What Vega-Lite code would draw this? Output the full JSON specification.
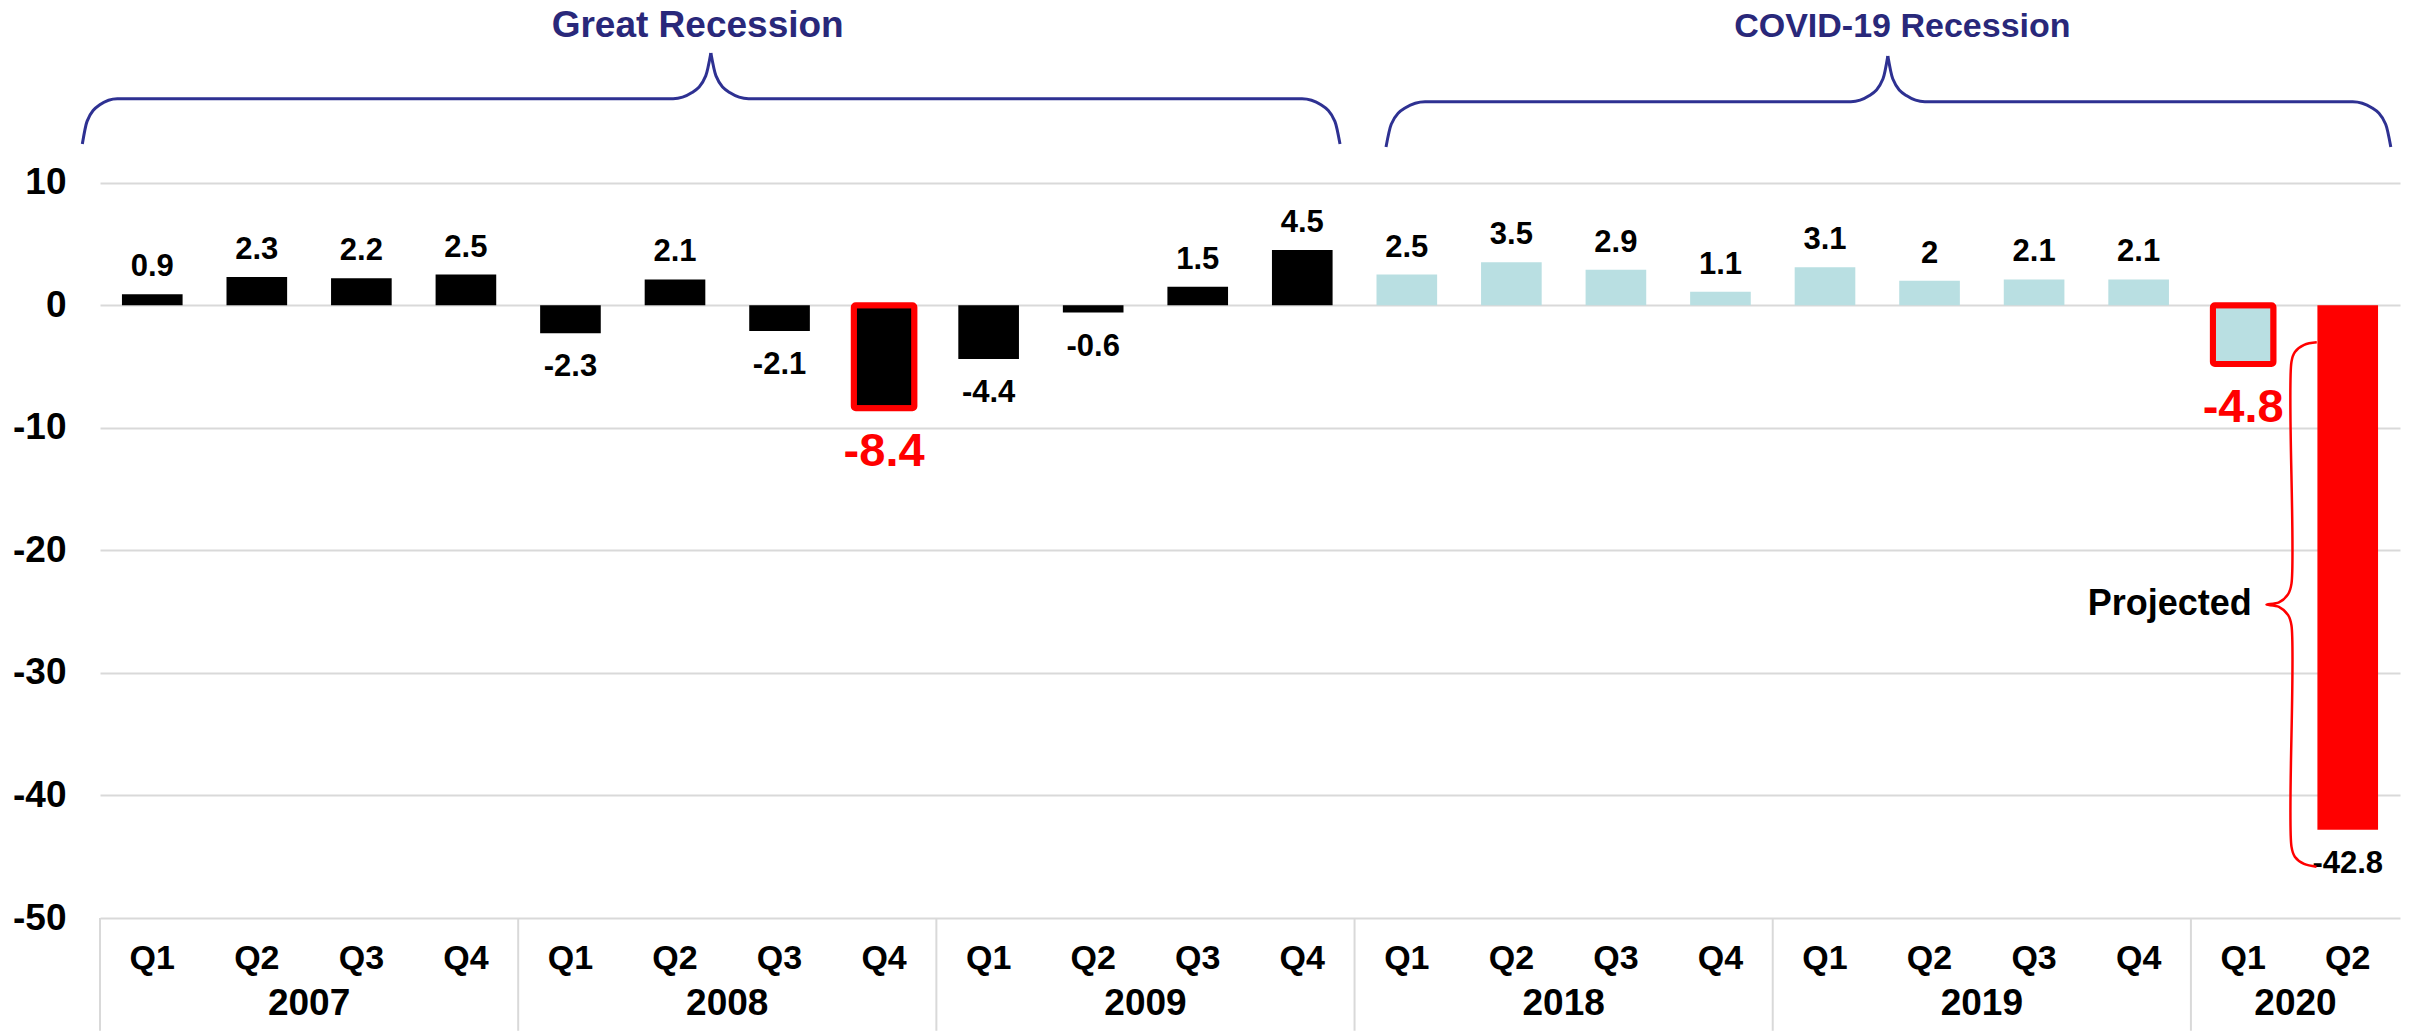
{
  "$schema": "https://vega.github.io/schema/vega-lite/v6.json",
  "width": 2300,
  "height": 918,
  "autosize": {"type": "none"},
  "padding": {"left": 100, "top": 0, "right": 12, "bottom": 113},
  "background": "white",
  "config": {"view": {"stroke": null}, "font": "Liberation Sans"},
  "datasets": {
    "gdp": [
      {"key": "2007 Q1", "year": "2007", "quarter": "Q1", "value": 0.9, "period": "Great Recession", "projected": false},
      {"key": "2007 Q2", "year": "2007", "quarter": "Q2", "value": 2.3, "period": "Great Recession", "projected": false},
      {"key": "2007 Q3", "year": "2007", "quarter": "Q3", "value": 2.2, "period": "Great Recession", "projected": false},
      {"key": "2007 Q4", "year": "2007", "quarter": "Q4", "value": 2.5, "period": "Great Recession", "projected": false},
      {"key": "2008 Q1", "year": "2008", "quarter": "Q1", "value": -2.3, "period": "Great Recession", "projected": false},
      {"key": "2008 Q2", "year": "2008", "quarter": "Q2", "value": 2.1, "period": "Great Recession", "projected": false},
      {"key": "2008 Q3", "year": "2008", "quarter": "Q3", "value": -2.1, "period": "Great Recession", "projected": false},
      {"key": "2008 Q4", "year": "2008", "quarter": "Q4", "value": -8.4, "period": "Great Recession", "projected": false},
      {"key": "2009 Q1", "year": "2009", "quarter": "Q1", "value": -4.4, "period": "Great Recession", "projected": false},
      {"key": "2009 Q2", "year": "2009", "quarter": "Q2", "value": -0.6, "period": "Great Recession", "projected": false},
      {"key": "2009 Q3", "year": "2009", "quarter": "Q3", "value": 1.5, "period": "Great Recession", "projected": false},
      {"key": "2009 Q4", "year": "2009", "quarter": "Q4", "value": 4.5, "period": "Great Recession", "projected": false},
      {"key": "2018 Q1", "year": "2018", "quarter": "Q1", "value": 2.5, "period": "COVID-19 Recession", "projected": false},
      {"key": "2018 Q2", "year": "2018", "quarter": "Q2", "value": 3.5, "period": "COVID-19 Recession", "projected": false},
      {"key": "2018 Q3", "year": "2018", "quarter": "Q3", "value": 2.9, "period": "COVID-19 Recession", "projected": false},
      {"key": "2018 Q4", "year": "2018", "quarter": "Q4", "value": 1.1, "period": "COVID-19 Recession", "projected": false},
      {"key": "2019 Q1", "year": "2019", "quarter": "Q1", "value": 3.1, "period": "COVID-19 Recession", "projected": false},
      {"key": "2019 Q2", "year": "2019", "quarter": "Q2", "value": 2, "period": "COVID-19 Recession", "projected": false},
      {"key": "2019 Q3", "year": "2019", "quarter": "Q3", "value": 2.1, "period": "COVID-19 Recession", "projected": false},
      {"key": "2019 Q4", "year": "2019", "quarter": "Q4", "value": 2.1, "period": "COVID-19 Recession", "projected": false},
      {"key": "2020 Q1", "year": "2020", "quarter": "Q1", "value": -4.8, "period": "COVID-19 Recession", "projected": false},
      {"key": "2020 Q2", "year": "2020", "quarter": "Q2", "value": -42.8, "period": "COVID-19 Recession", "projected": true}
    ],
    "braces": [
      {"part": "GR-L", "ord": 1, "u": 0.331, "v": 13.15},
      {"part": "GR-L", "ord": 2, "u": 0.376, "v": 15.0},
      {"part": "GR-L", "ord": 3, "u": 0.498, "v": 16.35},
      {"part": "GR-L", "ord": 4, "u": 0.665, "v": 16.85},
      {"part": "GR-L", "ord": 5, "u": 5.982, "v": 16.85},
      {"part": "GR-L", "ord": 6, "u": 6.163, "v": 17.35},
      {"part": "GR-L", "ord": 7, "u": 6.294, "v": 18.71},
      {"part": "GR-L", "ord": 8, "u": 6.343, "v": 20.58},
      {"part": "GR-R", "ord": 1, "u": 6.343, "v": 20.58},
      {"part": "GR-R", "ord": 2, "u": 6.392, "v": 18.71},
      {"part": "GR-R", "ord": 3, "u": 6.523, "v": 17.35},
      {"part": "GR-R", "ord": 4, "u": 6.704, "v": 16.85},
      {"part": "GR-R", "ord": 5, "u": 11.998, "v": 16.85},
      {"part": "GR-R", "ord": 6, "u": 12.179, "v": 16.35},
      {"part": "GR-R", "ord": 7, "u": 12.312, "v": 15.0},
      {"part": "GR-R", "ord": 8, "u": 12.361, "v": 13.15},
      {"part": "CV-L", "ord": 1, "u": 12.801, "v": 12.91},
      {"part": "CV-L", "ord": 2, "u": 12.851, "v": 14.76},
      {"part": "CV-L", "ord": 3, "u": 12.987, "v": 16.11},
      {"part": "CV-L", "ord": 4, "u": 13.174, "v": 16.6},
      {"part": "CV-L", "ord": 5, "u": 17.247, "v": 16.6},
      {"part": "CV-L", "ord": 6, "u": 17.425, "v": 17.1},
      {"part": "CV-L", "ord": 7, "u": 17.555, "v": 18.47},
      {"part": "CV-L", "ord": 8, "u": 17.601, "v": 20.33},
      {"part": "CV-R", "ord": 1, "u": 17.601, "v": 20.33},
      {"part": "CV-R", "ord": 2, "u": 17.648, "v": 18.47},
      {"part": "CV-R", "ord": 3, "u": 17.778, "v": 17.1},
      {"part": "CV-R", "ord": 4, "u": 17.955, "v": 16.6},
      {"part": "CV-R", "ord": 5, "u": 22.048, "v": 16.6},
      {"part": "CV-R", "ord": 6, "u": 22.23, "v": 16.11},
      {"part": "CV-R", "ord": 7, "u": 22.363, "v": 14.76},
      {"part": "CV-R", "ord": 8, "u": 22.412, "v": 12.91},
      {"part": "projected", "ord": 1, "u": 21.704, "v": -3.03},
      {"part": "projected", "ord": 2, "u": 21.583, "v": -3.24},
      {"part": "projected", "ord": 3, "u": 21.495, "v": -3.82},
      {"part": "projected", "ord": 4, "u": 21.462, "v": -4.61},
      {"part": "projected", "ord": 5, "u": 21.462, "v": -22.72},
      {"part": "projected", "ord": 6, "u": 21.43, "v": -23.57},
      {"part": "projected", "ord": 7, "u": 21.342, "v": -24.25},
      {"part": "projected", "ord": 8, "u": 21.223, "v": -24.43},
      {"part": "projected", "ord": 9, "u": 21.342, "v": -24.61},
      {"part": "projected", "ord": 10, "u": 21.43, "v": -25.29},
      {"part": "projected", "ord": 11, "u": 21.462, "v": -26.14},
      {"part": "projected", "ord": 12, "u": 21.462, "v": -44.18},
      {"part": "projected", "ord": 13, "u": 21.494, "v": -45.0},
      {"part": "projected", "ord": 14, "u": 21.582, "v": -45.59},
      {"part": "projected", "ord": 15, "u": 21.701, "v": -45.81}
    ],
    "notes": [
      {"label": "Great Recession", "u": 6.217, "v": 21.9},
      {"label": "COVID-19 Recession", "u": 17.74, "v": 21.9},
      {"label": "Projected", "u": 21.082, "v": -24.38}
    ]
  },
  "layer": [
    {
      "data": {"name": "gdp"},
      "encoding": {
        "x": {
          "field": "key",
          "type": "nominal",
          "title": null,
          "scale": {"paddingInner": 0.42, "paddingOuter": 0.21},
          "axis": {
            "domain": false,
            "ticks": false,
            "tickSize": 0,
            "grid": false,
            "labelAngle": 0,
            "labelExpr": "slice(datum.label, 5)",
            "labelFont": "Liberation Sans",
            "labelFontSize": 34,
            "labelFontWeight": "bold",
            "labelColor": "#000000",
            "labelPadding": 23
          }
        }
      },
      "layer": [
        {
          "mark": {"type": "bar"},
          "encoding": {
            "y": {
              "field": "value",
              "type": "quantitative",
              "title": null,
              "scale": {"domain": [-50, 24.9], "nice": false, "zero": false},
              "axis": {
                "values": [-50, -40, -30, -20, -10, 0, 10],
                "grid": true,
                "gridColor": "#D9D9D9",
                "gridWidth": 2,
                "domain": false,
                "ticks": false,
                "tickSize": 0,
                "labelFont": "Liberation Sans",
                "labelFontSize": 37,
                "labelFontWeight": "bold",
                "labelColor": "#000000",
                "labelPadding": 34,
                "labelExpr": "datum.value + ''"
              }
            },
            "color": {
              "condition": {"test": "datum.projected", "value": "#FF0000"},
              "field": "period",
              "type": "nominal",
              "scale": {"domain": ["Great Recession", "COVID-19 Recession"], "range": ["#000000", "#B9DFE2"]},
              "legend": null
            }
          }
        },
        {
          "transform": [
            {"joinaggregate": [{"op": "min", "field": "value", "as": "low"}], "groupby": ["period", "projected"]},
            {"filter": "!datum.projected && datum.value === datum.low"}
          ],
          "mark": {"type": "bar", "filled": false, "stroke": "#FF0000", "strokeWidth": 6, "strokeJoin": "round", "cornerRadius": 2},
          "encoding": {"y": {"field": "value", "type": "quantitative", "title": null}}
        },
        {
          "transform": [{"filter": "datum.value >= 0"}],
          "mark": {"type": "text", "font": "Liberation Sans", "fontWeight": "bold", "fontSize": 31, "color": "#000000", "baseline": "alphabetic", "dy": -18},
          "encoding": {"y": {"field": "value", "type": "quantitative", "title": null}, "text": {"field": "value", "type": "nominal"}}
        },
        {
          "transform": [
            {"joinaggregate": [{"op": "min", "field": "value", "as": "low"}], "groupby": ["period", "projected"]},
            {"filter": "datum.value < 0 && (datum.projected || datum.value !== datum.low)"}
          ],
          "mark": {"type": "text", "font": "Liberation Sans", "fontWeight": "bold", "fontSize": 31, "color": "#000000", "baseline": "alphabetic", "dy": 43},
          "encoding": {"y": {"field": "value", "type": "quantitative", "title": null}, "text": {"field": "value", "type": "nominal"}}
        },
        {
          "transform": [
            {"joinaggregate": [{"op": "min", "field": "value", "as": "low"}], "groupby": ["period", "projected"]},
            {"filter": "!datum.projected && datum.value === datum.low"}
          ],
          "mark": {"type": "text", "font": "Liberation Sans", "fontWeight": "bold", "fontSize": 47, "color": "#FF0000", "baseline": "alphabetic", "dy": 58},
          "encoding": {"y": {"field": "value", "type": "quantitative", "title": null}, "text": {"field": "value", "type": "nominal"}}
        },
        {
          "transform": [{"filter": "datum.quarter === 'Q1'"}],
          "mark": {"type": "rule", "color": "#D9D9D9", "strokeWidth": 2},
          "encoding": {
            "x": {"field": "key", "type": "nominal", "title": null, "bandPosition": -0.3621},
            "y": {"datum": -50},
            "y2": {"datum": -59.2}
          }
        }
      ]
    },
    {
      "layer": [
        {
          "data": {"name": "braces"},
          "transform": [{"filter": "datum.part !== 'projected'"}],
          "mark": {"type": "line", "interpolate": "monotone", "color": "#2E3192", "strokeWidth": 3},
          "encoding": {
            "x": {"field": "u", "type": "quantitative", "title": null, "scale": {"domain": [0.5, 22.5], "nice": false, "zero": false}, "axis": null},
            "y": {"field": "v", "type": "quantitative", "title": null, "scale": {"domain": [-50, 24.9], "nice": false, "zero": false}},
            "detail": {"field": "part", "type": "nominal"},
            "order": {"field": "ord", "type": "quantitative"}
          }
        },
        {
          "data": {"name": "braces"},
          "transform": [{"filter": "datum.part === 'projected'"}],
          "mark": {"type": "line", "interpolate": "catmull-rom", "color": "#FF0000", "strokeWidth": 2.5},
          "encoding": {
            "x": {"field": "u", "type": "quantitative", "title": null, "scale": {"domain": [0.5, 22.5], "nice": false, "zero": false}, "axis": null},
            "y": {"field": "v", "type": "quantitative", "title": null},
            "order": {"field": "ord", "type": "quantitative"}
          }
        },
        {
          "data": {"name": "notes"},
          "transform": [{"filter": "datum.label === 'Great Recession'"}],
          "mark": {"type": "text", "font": "Liberation Sans", "fontWeight": "bold", "fontSize": 37, "color": "#29287A", "align": "center", "baseline": "alphabetic"},
          "encoding": {
            "x": {"field": "u", "type": "quantitative", "title": null, "scale": {"domain": [0.5, 22.5], "nice": false, "zero": false}, "axis": null},
            "y": {"field": "v", "type": "quantitative", "title": null},
            "text": {"field": "label", "type": "nominal"}
          }
        },
        {
          "data": {"name": "notes"},
          "transform": [{"filter": "datum.label === 'COVID-19 Recession'"}],
          "mark": {"type": "text", "font": "Liberation Sans", "fontWeight": "bold", "fontSize": 34, "color": "#29287A", "align": "center", "baseline": "alphabetic"},
          "encoding": {
            "x": {"field": "u", "type": "quantitative", "title": null, "scale": {"domain": [0.5, 22.5], "nice": false, "zero": false}, "axis": null},
            "y": {"field": "v", "type": "quantitative", "title": null},
            "text": {"field": "label", "type": "nominal"}
          }
        },
        {
          "data": {"name": "notes"},
          "transform": [{"filter": "datum.label === 'Projected'"}],
          "mark": {"type": "text", "font": "Liberation Sans", "fontWeight": "bold", "fontSize": 36, "color": "#000000", "align": "right", "baseline": "middle"},
          "encoding": {
            "x": {"field": "u", "type": "quantitative", "title": null, "scale": {"domain": [0.5, 22.5], "nice": false, "zero": false}, "axis": null},
            "y": {"field": "v", "type": "quantitative", "title": null},
            "text": {"field": "label", "type": "nominal"}
          }
        },
        {
          "data": {"name": "gdp"},
          "transform": [
            {"window": [{"op": "row_number", "as": "n"}]},
            {"aggregate": [{"op": "mean", "field": "n", "as": "mid"}], "groupby": ["year"]}
          ],
          "mark": {"type": "text", "font": "Liberation Sans", "fontWeight": "bold", "fontSize": 37, "color": "#000000", "align": "center", "baseline": "alphabetic"},
          "encoding": {
            "x": {"field": "mid", "type": "quantitative", "title": null, "scale": {"domain": [0.5, 22.5], "nice": false, "zero": false}, "axis": null},
            "y": {"datum": -57.9},
            "text": {"field": "year", "type": "nominal"}
          }
        }
      ]
    }
  ],
  "resolve": {"scale": {"x": "independent"}}
}
